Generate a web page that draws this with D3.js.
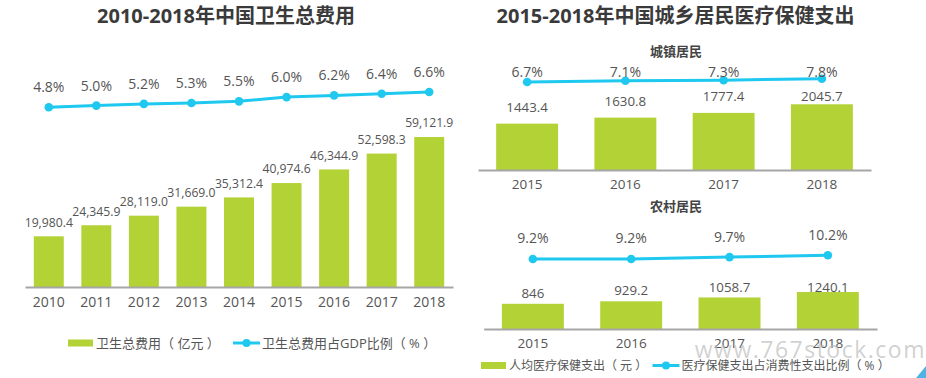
<!DOCTYPE html>
<html><head><meta charset="utf-8">
<script src="https://cdn.jsdelivr.net/npm/d3@7"></script>
<style>
body{margin:0;background:#fff;}
svg{display:block;font-family:"Open Sans","Noto Sans CJK SC",sans-serif;}
</style></head>
<body><svg id="c" width="926" height="378"></svg>
<script>
// ---- data ----
const leftYears = ["2010","2011","2012","2013","2014","2015","2016","2017","2018"];
const leftSpend = [19980.4,24345.9,28119.0,31669.0,35312.4,40974.6,46344.9,52598.3,59121.9];
const leftSpendLabels = ["19,980.4","24,345.9","28,119.0","31,669.0","35,312.4","40,974.6","46,344.9","52,598.3","59,121.9"];
const leftGdpPct = [4.8,5.0,5.2,5.3,5.5,6.0,6.2,6.4,6.6];

const rightYears = ["2015","2016","2017","2018"];
const urbanSpend = [1443.4,1630.8,1777.4,2045.7];
const urbanPct = [6.7,7.1,7.3,7.8];
const ruralSpend = [846,929.2,1058.7,1240.1];
const ruralSpendLabels = ["846","929.2","1058.7","1240.1"];
const ruralPct = [9.2,9.2,9.7,10.2];

const titles = ["2010-2018年中国卫生总费用","2015-2018年中国城乡居民医疗保健支出"];
const subTitles = ["城镇居民","农村居民"];
const legendLeft = ["卫生总费用（ 亿元 ）","卫生总费用占GDP比例（ % ）"];
const legendRight = ["人均医疗保健支出（ 元 ）","医疗保健支出占消费性支出比例（ % ）"];

// ---- style ----
const GREEN = "#b2d235", BLUE = "#1fc8ef", TXT = "#555", AXIS = "#a6a6a6";
const svg = d3.select("#c");

function panel(cfg){
  const g = svg.append("g");
  const x = d3.scaleBand().domain(cfg.years).range(cfg.xr).paddingInner(0.37).paddingOuter(0.185);
  const yb = d3.scaleLinear().domain(cfg.bd).range(cfg.br);
  const yl = d3.scaleLinear().domain([0,10]).range(cfg.lr);
  const data = cfg.years.map((y,i)=>({y, v:cfg.bars[i], lab:cfg.barLabels[i], p:cfg.pct[i]}));
  g.selectAll("rect.bar").data(data).join("rect").attr("class","bar")
    .attr("x",d=>x(d.y)).attr("width",x.bandwidth())
    .attr("y",d=>yb(d.v)).attr("height",d=>yb(0)-yb(d.v)).attr("fill",GREEN);
  const ax = g.append("g").attr("transform",`translate(0,${yb(0)})`)
    .call(d3.axisBottom(x).tickSize(0).tickPadding(cfg.tickPad));
  ax.select(".domain").attr("stroke",AXIS).attr("stroke-width",2);
  ax.selectAll("text").attr("font-size",cfg.yearFs).attr("fill",TXT)
    .attr("font-family",'"Open Sans",sans-serif');
  g.selectAll("text.bl").data(data).join("text").attr("class","bl")
    .attr("x",d=>x(d.y)+x.bandwidth()/2)
    .attr("y",d=>Math.max(yb(d.v)-cfg.blOff, cfg.blMin))
    .attr("dy","0.35em").attr("text-anchor","middle")
    .attr("font-size",cfg.blFs).attr("fill",TXT).text(d=>d.lab);
  const line = d3.line().x(d=>x(d.y)+x.bandwidth()/2).y(d=>yl(d.p));
  g.append("path").datum(data).attr("d",line).attr("fill","none")
    .attr("stroke",BLUE).attr("stroke-width",3);
  g.selectAll("circle.pt").data(data).join("circle").attr("class","pt")
    .attr("cx",d=>x(d.y)+x.bandwidth()/2).attr("cy",d=>yl(d.p))
    .attr("r",4.3).attr("fill",BLUE);
  g.selectAll("text.pl").data(data).join("text").attr("class","pl")
    .attr("x",d=>x(d.y)+x.bandwidth()/2)
    .attr("y",d=>cfg.plFixed!=null ? cfg.plFixed : yl(d.p)-cfg.plOff)
    .attr("dy","0.35em").attr("text-anchor","middle")
    .attr("font-size",14).attr("fill",TXT).text(d=>d.p.toFixed(1)+"%");
}

panel({years:leftYears,bars:leftSpend,barLabels:leftSpendLabels,pct:leftGdpPct,
  xr:[25,453],bd:[0,60000],br:[287,134.8],lr:[148.1,63.1],
  tickPad:10,yearFs:14,blOff:14,blMin:-999,blFs:12.2,plOff:20});
panel({years:rightYears,bars:urbanSpend,barLabels:urbanSpend.map(v=>v.toFixed(1)),pct:urbanPct,
  xr:[478,871],bd:[0,2500],br:[170,89.7],lr:[102.1,72.1],
  tickPad:9,yearFs:13.5,blOff:16.5,blMin:96.7,blFs:13.3,plFixed:71.7});
panel({years:rightYears,bars:ruralSpend,barLabels:ruralSpendLabels,pct:ruralPct,
  xr:[483.7,877],bd:[0,1500],br:[329,284.3],lr:[293,256],
  tickPad:9,yearFs:13.5,blOff:10.7,blMin:287,blFs:13.3,plOff:20.5});

svg.append("text").attr("x",226).attr("y",16).attr("dy","0.35em").attr("text-anchor","middle")
  .attr("font-size",20).attr("font-weight","bold").attr("fill","#3a3a3a").text(titles[0]);
svg.append("text").attr("x",675.5).attr("y",16).attr("dy","0.35em").attr("text-anchor","middle")
  .attr("font-size",20).attr("font-weight","bold").attr("fill","#3a3a3a").text(titles[1]);
svg.append("text").attr("x",676).attr("y",51.7).attr("dy","0.35em").attr("text-anchor","middle")
  .attr("font-size",13).attr("font-weight","bold").attr("fill","#444").text(subTitles[0]);
svg.append("text").attr("x",676).attr("y",206.7).attr("dy","0.35em").attr("text-anchor","middle")
  .attr("font-size",13).attr("font-weight","bold").attr("fill","#444").text(subTitles[1]);

function legend(x0, y, sw, labels, fs, lx0){
  svg.append("rect").attr("x",x0).attr("y",y-3.5).attr("width",sw).attr("height",7).attr("fill",GREEN);
  svg.append("text").attr("x",x0+sw+3).attr("y",y).attr("dy","0.35em").attr("font-size",fs)
    .attr("fill",TXT).text(labels[0]);
  svg.append("line").attr("x1",lx0).attr("x2",lx0+27).attr("y1",y).attr("y2",y)
    .attr("stroke",BLUE).attr("stroke-width",3);
  svg.append("circle").attr("cx",lx0+13.5).attr("cy",y).attr("r",4).attr("fill",BLUE);
  svg.append("text").attr("x",lx0+29).attr("y",y).attr("dy","0.35em").attr("font-size",fs)
    .attr("fill",TXT).text(labels[1]);
}
legend(68,343,25,legendLeft,13,233);
legend(481,365.5,25,legendRight,12,652.5);

svg.append("text").attr("x",926).attr("y",350).attr("dy","0.35em").attr("text-anchor","end")
  .attr("font-size",23).attr("letter-spacing",1.5).attr("fill","#bdbdbd").attr("fill-opacity",0.7)
  .text("www.767stock.com");
svg.append("path").attr("d","M916,378L926,366L926,378Z").attr("fill","#4fb3e6");
</script></body></html>
